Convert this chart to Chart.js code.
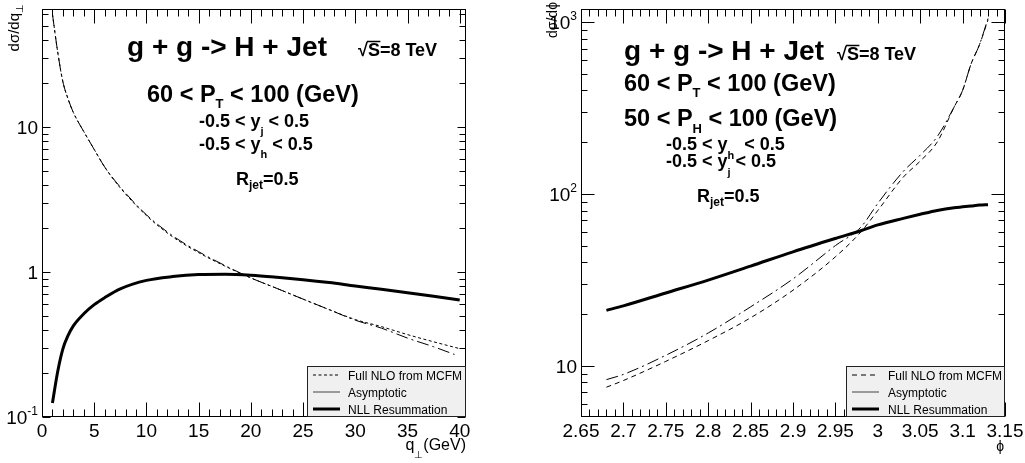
<!DOCTYPE html>
<html>
<head>
<meta charset="utf-8">
<script src="https://cdn.jsdelivr.net/npm/chart.js@4.4.1/dist/chart.umd.min.js"></script>
<style>
  html, body { margin: 0; padding: 0; background: #fff; }
  #wrap { position: relative; width: 1025px; height: 463px; }
  canvas { position: absolute; top: 0; }
</style>
</head>
<body>
<div id="wrap">
  <canvas id="cQt" width="512" height="463" style="left:0"></canvas>
  <canvas id="cPhi" width="513" height="463" style="left:512px"></canvas>
</div>
<script>
// ---------------------------
// data
const qtGrid  = [1, 1.5, 2, 2.5, 3, 4, 5, 6, 7.5, 10, 12.5, 15, 17.5, 20, 22.5, 25, 27.5, 30, 32.5, 35, 37.5, 40];
const nloQt   = [60, 33, 20.5, 15.6, 12.6, 9.3, 7.0, 5.3, 3.8, 2.45, 1.75, 1.36, 1.1, 0.91, 0.77, 0.65, 0.55, 0.47, 0.42, 0.37, 0.33, 0.296];
const nllQt   = [0.125, 0.205, 0.295, 0.365, 0.425, 0.515, 0.595, 0.665, 0.765, 0.875, 0.93, 0.96, 0.965, 0.95, 0.92, 0.885, 0.845, 0.8, 0.76, 0.72, 0.68, 0.64];
const qtAsymGrid = [1, 1.5, 2, 2.5, 3, 4, 5, 6, 7.5, 10, 12.5, 15, 17.5, 20, 22.5, 25, 27.5, 30, 32.5, 35, 37.5, 39.5];
const asymQt  = [60, 33, 20.5, 15.6, 12.6, 9.3, 7.0, 5.3, 3.85, 2.48, 1.78, 1.38, 1.11, 0.91, 0.77, 0.65, 0.55, 0.465, 0.41, 0.35, 0.305, 0.27];

const phiGrid = [2.68, 2.7, 2.75, 2.8, 2.85, 2.9, 2.95, 2.98, 3.0, 3.03, 3.05, 3.07, 3.09, 3.1, 3.11, 3.12, 3.13];
const nloPhi  = [7.5, 8.2, 10.6, 14, 19, 27.5, 43, 60, 80, 125, 155, 200, 320, 400, 570, 740, 1030];
const asymPhi = [8.3, 8.9, 11.5, 15.5, 22, 32, 50, 64, 88, 135, 168, 215, 320, 400, 570, 740, 1050];
const nllPhi  = [21, 22.3, 26.5, 31.5, 38, 46, 55, 61, 66, 72, 76, 80, 83, 84, 85, 86, 86.5];

// tick labels
const qtXTicks  = [0, 5, 10, 15, 20, 25, 30, 35, 40];
const qtYTicks  = [0.1, 1, 10];
const qtYLabels = [['10', '-1'], ['1', ''], ['10', '']];
const phiXTicks  = [2.65, 2.7, 2.75, 2.8, 2.85, 2.9, 2.95, 3.0, 3.05, 3.1, 3.15];
const phiXLabels = ['2.65', '2.7', '2.75', '2.8', '2.85', '2.9', '2.95', '3', '3.05', '3.1', '3.15'];
const phiYTicks  = [10, 100, 1000];
const phiYLabels = [['10', ''], ['10', '2'], ['10', '3']];

const legendLabels = ['Full NLO from MCFM', 'Asymptotic', 'NLL Resummation'];

// ---------------------------
const FONT = '"Liberation Sans", Arial, Helvetica, sans-serif';
function setFont(ctx, size, bold) { ctx.font = (bold ? 'bold ' : '') + size + 'px ' + FONT; }

// parts: [text, size, dy]
function drawRich(ctx, x, y, parts, bold, align) {
  let w = 0;
  parts.forEach(p => { setFont(ctx, p[1], bold); w += ctx.measureText(p[0]).width; });
  let cx = align === 'right' ? x - w : (align === 'center' ? x - w / 2 : x);
  ctx.textAlign = 'left';
  ctx.textBaseline = 'alphabetic';
  const widths = [];
  parts.forEach(p => {
    setFont(ctx, p[1], bold);
    ctx.fillText(p[0], cx, y + (p[2] || 0));
    const pw = ctx.measureText(p[0]).width;
    widths.push([cx, pw]);
    cx += pw;
  });
  return widths;
}

function line(ctx, x0, y0, x1, y1) {
  ctx.beginPath(); ctx.moveTo(x0, y0); ctx.lineTo(x1, y1); ctx.stroke();
}

function logMinors(min, max) {
  const out = [];
  for (let d = Math.pow(10, Math.floor(Math.log10(min))); d <= max; d *= 10) {
    for (let k = 2; k <= 9; k++) { const v = k * d; if (v >= min && v <= max) out.push(v); }
  }
  return out;
}
function linMinors(min, max, step, majors) {
  const out = [];
  const n = Math.round((max - min) / step);
  for (let i = 0; i <= n; i++) {
    const v = +(min + i * step).toFixed(6);
    if (v <= max && !majors.some(m => Math.abs(m - v) < 1e-6)) out.push(v);
  }
  return out;
}

// frame, ticks, labels, notes and legend in ROOT style
const rootFrame = {
  id: 'rootFrame',
  afterDatasetsDraw(chart, args, o) {
    const { ctx, chartArea: a, scales: { x, y } } = chart;
    ctx.save();
    ctx.strokeStyle = '#000';
    ctx.fillStyle = '#000';
    ctx.lineWidth = 1;
    const L = Math.round(a.left) + 0.5, R = Math.round(a.right) - 0.5;
    const T = Math.round(a.top) + 0.5, B = Math.round(a.bottom) - 0.5;

    // x ticks (bottom + top)
    const xMin = linMinors(x.min, x.max, o.xMinorStep, o.xTicks);
    const drawX = (vals, len) => vals.forEach(v => {
      const p = Math.round(x.getPixelForValue(v)) + 0.5;
      line(ctx, p, B, p, B - len); line(ctx, p, T, p, T + len);
    });
    drawX(o.xTicks, 14); drawX(xMin, 7);

    // y ticks (left + right)
    const drawY = (vals, len) => vals.forEach(v => {
      const p = Math.round(y.getPixelForValue(v)) + 0.5;
      line(ctx, L, p, L + len, p); line(ctx, R, p, R - len, p);
    });
    drawY(o.yTicks, o.yMajorLen); drawY(logMinors(y.min, y.max), 6);

    // frame
    ctx.strokeRect(L, T, R - L, B - T);

    // tick labels
    o.xTicks.forEach((v, i) => {
      drawRich(ctx, x.getPixelForValue(v), a.bottom + 20, [[o.xLabels[i], 19, 0]], false, 'center');
    });
    o.yTicks.forEach((v, i) => {
      const lab = o.yLabels[i];
      const parts = [[lab[0], 19, 0]];
      if (lab[1]) parts.push([lab[1], 12, -9]);
      drawRich(ctx, a.left - 4, y.getPixelForValue(v) + 7, parts, false, 'right');
    });

    // axis titles
    drawRich(ctx, o.xTitle.x, o.xTitle.y, o.xTitle.parts, false, 'right');
    ctx.save();
    ctx.translate(o.yTitle.x, o.yTitle.y);
    ctx.rotate(-Math.PI / 2);
    drawRich(ctx, 0, 0, o.yTitle.parts, false, 'right');
    ctx.restore();

    // annotations
    o.notes.forEach(n => {
      const w = drawRich(ctx, n.x, n.y, n.parts, true, 'left');
      if (n.sqrt) {
        ctx.lineWidth = 1.5;
        line(ctx, w[1][0] - 1, n.y - 14.5, w[1][0] + 12.5, n.y - 14.5);
        ctx.lineWidth = 1;
      }
    });

    // legend box
    const g = o.legend;
    ctx.fillStyle = '#f0f0f0';
    ctx.fillRect(g.x0, g.y0, g.x1 - g.x0, g.y1 - g.y0);
    ctx.strokeStyle = '#222';
    ctx.strokeRect(g.x0 + 0.5, g.y0 + 0.5, g.x1 - g.x0 - 1, g.y1 - g.y0 - 1);
    ctx.fillStyle = '#000';
    g.rows.forEach((r, i) => {
      ctx.save();
      ctx.strokeStyle = r.color;
      ctx.lineWidth = r.width;
      ctx.setLineDash(r.dash);
      line(ctx, g.lx0, r.y, g.lx1, r.y);
      ctx.restore();
      drawRich(ctx, g.tx, r.y + 4.5, [[legendLabels[i], 12, 0]], false, 'left');
    });
    ctx.restore();
  }
};

function pts(xs, ys) { return xs.map((v, i) => ({ x: v, y: ys[i] })); }

function series(xs, ys, width, dash) {
  return {
    data: pts(xs, ys),
    borderColor: '#000',
    borderWidth: width,
    borderDash: dash,
    pointRadius: 0,
    fill: false,
    cubicInterpolationMode: 'monotone'
  };
}

function makeChart(id, datasets, xr, yr, padding, frameOpts) {
  return new Chart(document.getElementById(id), {
    type: 'line',
    data: { datasets },
    options: {
      responsive: false,
      animation: false,
      events: [],
      layout: { padding },
      scales: {
        x: { type: 'linear', min: xr[0], max: xr[1], display: false },
        y: { type: 'logarithmic', min: yr[0], max: yr[1], display: false }
      },
      plugins: { legend: { display: false }, tooltip: { enabled: false }, rootFrame: frameOpts }
    },
    plugins: [rootFrame]
  });
}

// ---------------------------
// left: q_perp distribution
makeChart('cQt', [
  series(qtGrid, nloQt, 1, [3, 2.5]),
  series(qtAsymGrid, asymQt, 1, [12, 4, 2, 4]),
  series(qtGrid, nllQt, 3, [])
], [0, 40.6], [0.1, 65.1], { left: 42, right: 46, top: 9, bottom: 46 }, {
  xTicks: qtXTicks, xLabels: qtXTicks.map(String), xMinorStep: 1,
  yTicks: qtYTicks, yLabels: qtYLabels, yMajorLen: 8,
  xTitle: { x: 466, y: 450, parts: [['q', 16, 0], ['\u22A5', 10, 8], ['(GeV)', 16, 0]] },
  yTitle: { x: 19, y: 4, parts: [['d\u03C3/dq', 15, 0], ['\u22A5', 10, 4]] },
  notes: [
    { x: 127, y: 56, parts: [['g + g -> H + Jet', 28, 0]] },
    { x: 358, y: 56, parts: [['\u221A', 18, 0], ['S=8 TeV', 18, 0]], sqrt: true },
    { x: 147, y: 101.7, parts: [['60 < P', 23.5, 0], ['T', 13, 6.5], [' < 100 (GeV)', 23.5, 0]] },
    { x: 199, y: 126.7, parts: [['-0.5 < y', 18, 0], ['j', 11, 8], [' < 0.5', 18, 0]] },
    { x: 199, y: 150, parts: [['-0.5 < y', 18, 0], ['h', 11, 8], [' < 0.5', 18, 0]] },
    { x: 236, y: 185, parts: [['R', 18, 0], ['jet', 12, 4], ['=0.5', 18, 0]] }
  ],
  legend: {
    x0: 307, y0: 366, x1: 466, y1: 417, lx0: 313, lx1: 340, tx: 348,
    rows: [
      { y: 375, dash: [3, 2.5], width: 1, color: '#000' },
      { y: 392, dash: [], width: 1, color: '#444' },
      { y: 409, dash: [], width: 3, color: '#000' }
    ]
  }
});

// right: azimuthal angle distribution
makeChart('cPhi', [
  series(phiGrid, nloPhi, 1, [5, 4]),
  series(phiGrid, asymPhi, 1, [12, 4, 2, 4]),
  series(phiGrid, nllPhi, 3, [])
], [2.65, 3.15], [5.03, 1190], { left: 69, right: 20, top: 9, bottom: 46 }, {
  xTicks: phiXTicks, xLabels: phiXLabels, xMinorStep: 0.01,
  yTicks: phiYTicks, yLabels: phiYLabels, yMajorLen: 13,
  xTitle: { x: 492, y: 451, parts: [['\u03D5', 14, 0]] },
  yTitle: { x: 45, y: 2, parts: [['d\u03C3/d\u03D5', 14, 0]] },
  notes: [
    { x: 112, y: 60, parts: [['g + g -> H + Jet', 28, 0]] },
    { x: 325, y: 60, parts: [['\u221A', 18, 0], ['S=8 TeV', 18, 0]], sqrt: true },
    { x: 112, y: 90.7, parts: [['60 < P', 23.5, 0], ['T', 13, 6.5], [' < 100 (GeV)', 23.5, 0]] },
    { x: 112, y: 126, parts: [['50 < P', 23.5, 0], ['H', 13, 6.5], [' < 100 (GeV)', 23.5, 0]] },
    { x: 154, y: 150, parts: [['-0.5 < y', 18, 0], ['h', 11, 9], ['  < 0.5', 18, 0]] },
    { x: 154, y: 167, parts: [['-0.5 < y', 18, 0], ['j', 11, 9], [' < 0.5', 18, 0]] },
    { x: 185, y: 201.7, parts: [['R', 18, 0], ['jet', 12, 4], ['=0.5', 18, 0]] }
  ],
  legend: {
    x0: 334, y0: 366, x1: 493, y1: 417, lx0: 340, lx1: 367, tx: 376,
    rows: [
      { y: 375, dash: [5, 4], width: 1, color: '#000' },
      { y: 392, dash: [], width: 1, color: '#444' },
      { y: 409, dash: [], width: 3, color: '#000' }
    ]
  }
});
</script>
</body>
</html>
